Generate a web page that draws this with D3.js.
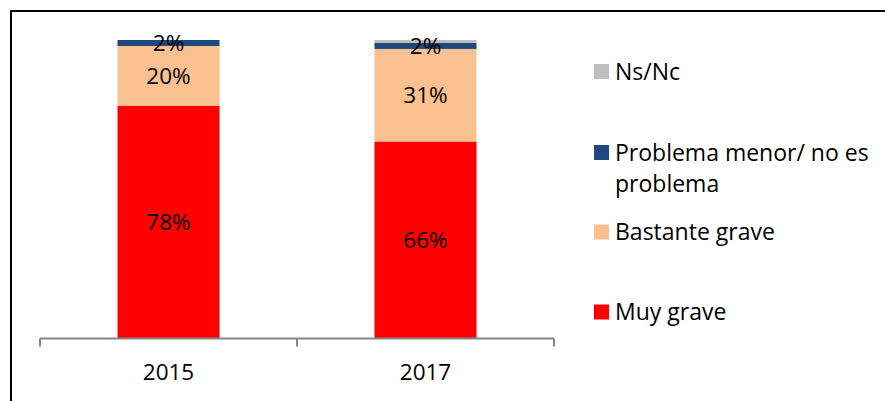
<!DOCTYPE html>
<html>
<head>
<meta charset="utf-8">
<script src="https://cdn.jsdelivr.net/npm/d3@7"></script>
<style>
    body { margin: 0; background: #fff; }
    svg { display: block; font-family: "Open Sans", Lato, sans-serif; }
</style>
</head>
<body>
<script>
//chart data
var years = ["2015", "2017"];
var seriesNames = ["Muy grave", "Bastante grave", "Problema menor/ no es problema", "Ns/Nc"];
var muyGrave = [78, 66];
var bastanteGrave = [20, 31];
var problemaMenor = [2, 2];
var nsNc = [0, 1];
var seriesColors = ["#FF0000", "#FAC090", "#1F497D", "#BFBFBF"];
var legendLines = [["Ns/Nc"], ["Problema menor/ no es", "problema"], ["Bastante grave"], ["Muy grave"]];

window.onload = drawChart();

function drawChart(){
    var width = 885,
        height = 401;

    var svg = d3.select("body")
        .append("svg")
        .attr("width", width)
        .attr("height", height);

    //frame lines (top and left only)
    svg.append("path")
        .attr("d", "M11,401V11H885")
        .attr("fill", "none")
        .attr("stroke", "#000")
        .attr("stroke-width", 2);

    //build rows for stacking
    var rows = years.map(function(y, i){
        return {
            year: y,
            "Muy grave": muyGrave[i],
            "Bastante grave": bastanteGrave[i],
            "Problema menor/ no es problema": problemaMenor[i],
            "Ns/Nc": nsNc[i]
        };
    });

    var stack = d3.stack().keys(seriesNames)(rows);

    var x = d3.scaleBand()
        .domain(years)
        .range([40, 554])
        .paddingInner(0.603)
        .paddingOuter(0.3015);

    var y = d3.scaleLinear()
        .domain([0, 100])
        .range([338.5, 40]);

    //stacked bars
    var layers = svg.selectAll(".layer")
        .data(stack)
        .enter()
        .append("g")
        .attr("class", "layer")
        .attr("fill", function(d, i){ return seriesColors[i]; });

    layers.selectAll("rect")
        .data(function(d){ return d; })
        .enter()
        .append("rect")
        .attr("x", function(d){ return x(d.data.year); })
        .attr("y", function(d){ return y(d[1]); })
        .attr("width", x.bandwidth())
        .attr("height", function(d){ return y(d[0]) - y(d[1]); });

    //value labels (no label for Ns/Nc)
    stack.slice(0, 3).forEach(function(layer){
        svg.selectAll(".lbl-" + layer.index)
            .data(layer)
            .enter()
            .append("text")
            .attr("x", function(d){ return x(d.data.year) + x.bandwidth() / 2; })
            .attr("y", function(d){ return (y(d[0]) + y(d[1])) / 2; })
            .attr("dy", "0.36em")
            .attr("text-anchor", "middle")
            .attr("font-size", 22.5)
            .attr("fill", "#000")
            .text(function(d){ return (d[1] - d[0]) + "%"; });
    });

    //x axis with ticks at category boundaries
    var axisY = y(0);
    svg.append("line")
        .attr("x1", 40).attr("x2", 554)
        .attr("y1", axisY).attr("y2", axisY)
        .attr("stroke", "#868686")
        .attr("stroke-width", 2);

    var bounds = d3.range(years.length + 1).map(function(i){ return 40 + i * x.step(); });
    svg.selectAll(".tick")
        .data(bounds)
        .enter()
        .append("line")
        .attr("x1", function(d){ return d; })
        .attr("x2", function(d){ return d; })
        .attr("y1", axisY)
        .attr("y2", axisY + 8)
        .attr("stroke", "#868686")
        .attr("stroke-width", 2);

    svg.selectAll(".xlabel")
        .data(years)
        .enter()
        .append("text")
        .attr("x", function(d){ return x(d) + x.bandwidth() / 2; })
        .attr("y", 379.5)
        .attr("text-anchor", "middle")
        .attr("font-size", 22.5)
        .attr("fill", "#000")
        .text(function(d){ return d; });

    //legend
    var legendY = [71.5, 152.5, 232, 312];
    var legendColors = seriesColors.slice().reverse();
    var legend = svg.selectAll(".legend")
        .data(legendLines)
        .enter()
        .append("g")
        .attr("class", "legend")
        .attr("transform", function(d, i){ return "translate(594," + legendY[i] + ")"; });

    legend.append("rect")
        .attr("x", 0)
        .attr("y", -7.5)
        .attr("width", 15)
        .attr("height", 15)
        .attr("fill", function(d, i){ return legendColors[i]; });

    legend.each(function(lines){
        var g = d3.select(this);
        lines.forEach(function(t, j){
            g.append("text")
                .attr("x", 21)
                .attr("y", j * 31)
                .attr("dy", "0.36em")
                .attr("font-size", 23)
                .attr("fill", "#000")
                .text(t);
        });
    });
};
</script>
</body>
</html>
